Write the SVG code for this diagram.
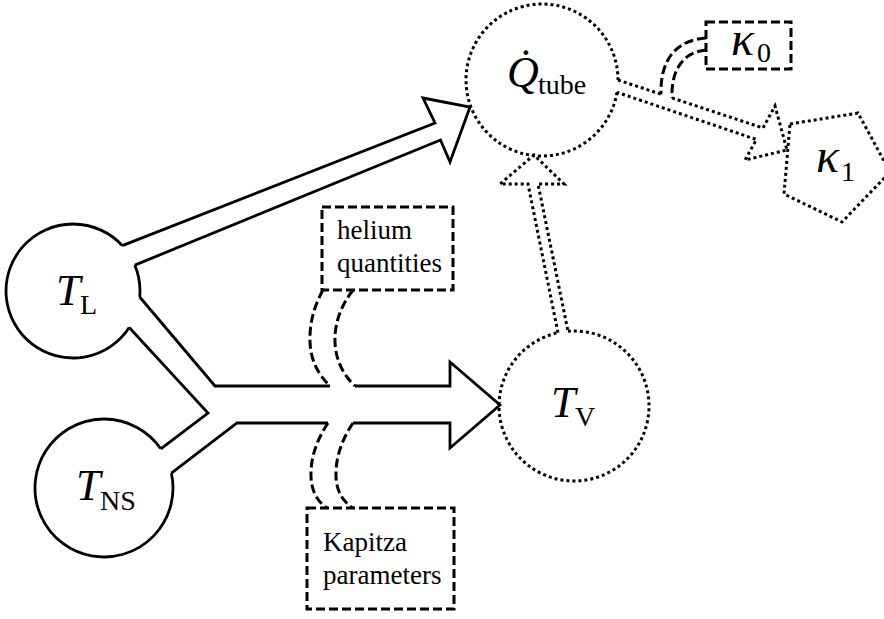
<svg xmlns="http://www.w3.org/2000/svg" width="884" height="619" viewBox="0 0 884 619">
<style>
.solid{fill:none;stroke:#000;stroke-width:2.8;stroke-linejoin:miter}
.dot{fill:none;stroke:#000;stroke-width:3;stroke-dasharray:3 3}
.dash{fill:none;stroke:#000;stroke-width:3;stroke-dasharray:9 4}
text{font-family:"Liberation Serif","Times New Roman",serif;fill:#000}
.m{font-style:italic;font-size:44px}
.k{font-style:italic;font-size:48px}
.s{font-size:28px}
.lbl{font-size:27px}
</style>
<rect width="884" height="619" fill="#fff"/>

<g id="connectors">
  <!-- T_L to Q_tube hollow arrow -->
  <polyline class="solid" points="122.3,245.6 435,123 423,98 470,107 450,162 440.5,140 134.8,265.1"/>
  <!-- merged Y arrow T_L + T_NS to T_V -->
  <polyline class="solid" points="139.7,297 215,386 330,386"/>
  <polyline class="solid" points="355,386 450,386 450,362 500,405 450,448 450,423 353,423"/>
  <polyline class="solid" points="328,423 237,423 171.4,473.2"/>
  <polyline class="solid" points="129.2,327.5 208,413 160.8,448.8"/>
  <!-- helium quantities joining -->
  <path class="dash" d="M323,290 Q309,315 310,342 Q311,368 330,386"/>
  <path class="dash" d="M353,290 Q334,315 335,342 Q336,368 355,386"/>
  <!-- Kapitza parameters joining -->
  <path class="dash" d="M328,423 Q310,450 311,477 Q312,498 327,508"/>
  <path class="dash" d="M353,423 Q335,450 336,477 Q337,498 353,508"/>
  <!-- T_V to Q_tube dotted hollow arrow -->
  <polyline class="dot" points="558,332.7 528,184 500,184 534,155 564,184 538,184 568,331.2"/>
  <!-- Q_tube to kappa1 dotted hollow arrow -->
  <polyline class="dot" points="618,80 661,94.2"/>
  <polyline class="dot" points="672,97.9 763,128 775,106 787,150 745,160 756.4,139.5 617,92.3"/>
  <!-- kappa0 joining -->
  <path class="dash" d="M706,38 C676,40 660,60 661,94.2"/>
  <path class="dash" d="M706,50 C686,52 671,66 672,97.9"/>
</g>

<g id="node-Qtube">
  <path class="dot" d="M617,92.3 A76,76 0 1 1 618,80"/>
  <text class="m" x="507" y="87">Q̇</text>
  <text class="s" x="538" y="94">tube</text>
</g>

<g id="node-kappa0">
  <rect class="dash" x="706" y="22" width="85" height="47"/>
  <text class="k" x="731" y="55">κ</text>
  <text class="s" x="757" y="62">0</text>
</g>

<g id="node-kappa1">
  <polygon class="dot" points="790,124 858,113 890,172 842,222 784,194"/>
  <text class="k" x="816" y="172">κ</text>
  <text class="s" x="841" y="181">1</text>
</g>

<g id="node-TL">
  <path class="solid" d="M129.2,327.5 A67,67 0 1 1 122.3,245.6 M134.8,265.1 A67,67 0 0 1 139.7,297"/>
  <text class="m" x="56" y="305">T</text>
  <text class="s" x="80" y="314">L</text>
</g>

<g id="node-TNS">
  <path class="solid" d="M171.4,473.2 A69,69 0 1 1 160.8,448.8"/>
  <text class="m" x="76" y="500">T</text>
  <text class="s" x="100" y="510">NS</text>
</g>

<g id="node-TV">
  <path class="dot" d="M568,331.24 A75,75 0 1 1 558,332.73"/>
  <text class="m" x="551" y="417">T</text>
  <text class="s" x="575" y="426">V</text>
</g>

<g id="node-helium">
  <rect class="dash" x="322" y="207" width="131" height="83"/>
  <text class="lbl" x="337" y="239">helium</text>
  <text class="lbl" x="337" y="272">quantities</text>
</g>

<g id="node-kapitza">
  <rect class="dash" x="307" y="508" width="147" height="101"/>
  <text class="lbl" x="323" y="551">Kapitza</text>
  <text class="lbl" x="323" y="584">parameters</text>
</g>
</svg>
